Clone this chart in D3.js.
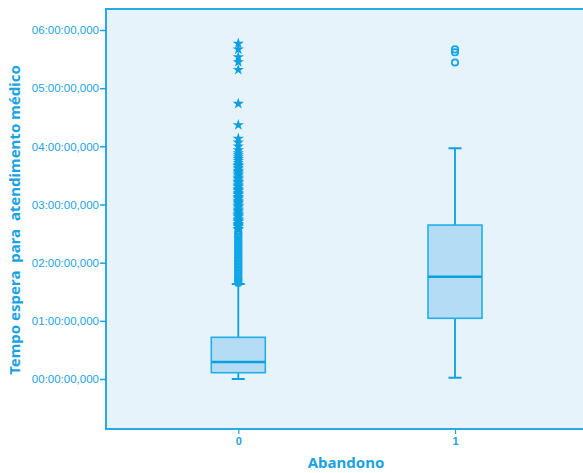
<!DOCTYPE html>
<html>
<head>
<meta charset="utf-8">
<script src="https://cdn.jsdelivr.net/npm/d3@7"></script>
<style>
  html, body { margin: 0; padding: 0; background: #fff; }
  svg { display: block; font-family: "Noto Sans", "Liberation Sans", sans-serif; }
</style>
</head>
<body>
<div id="chart"></div>
<script>
// values in minutes
const categories = ['0', '1'];
const whiskerLow = [0, 1.3];
const q1 = [6.5, 62.6];
const median = [17.5, 105.5];
const q3 = [43, 158.8];
const whiskerHigh = [98, 238];
const outliers0 = [99, 100, 102, 103, 104, 106, 107, 109, 110, 112, 113, 115, 116, 118, 119, 121,
  122, 124, 125, 127, 128, 130, 131, 133, 135, 136, 138, 139, 141, 142, 144, 146, 147, 149, 150,
  152, 154, 155, 157, 158, 159, 160, 162, 163, 164, 165, 167, 168, 169, 170, 172, 173, 174, 175,
  177, 178, 179, 181, 182, 183, 184, 186, 187, 188, 190, 191, 192, 194, 195, 196, 198, 199, 200,
  202, 203, 204, 206, 207, 208, 210, 211, 213, 214, 215, 217, 218, 220, 221, 223, 225, 227, 229,
  231, 233, 236, 240, 244, 248, 262, 284, 319, 327, 332, 340, 346];
const outliers1 = [326.5, 337, 340];
const outliers = [outliers0, outliers1];
const yTicks = [0, 60, 120, 180, 240, 300, 360];

const W = 583, H = 473;
const plotLeft = 106, plotTop = 9, plotBottom = 429;
const textColor = '#1aa3e2';
const lineColor = '#0ba0e0';

const svg = d3.select('#chart').append('svg')
  .attr('width', W)
  .attr('height', H);

const y = d3.scaleLinear().domain([0, 360]).range([379, 30]);
const x = d3.scalePoint().domain(categories).range([238.3, 455]);

// plot area
svg.append('rect')
  .attr('x', plotLeft).attr('y', plotTop)
  .attr('width', W - plotLeft + 10).attr('height', plotBottom - plotTop)
  .attr('fill', '#e6f3fb')
  .attr('stroke', '#28a9e3')
  .attr('stroke-width', 2);

// axes
const yAxis = d3.axisLeft(y)
  .tickValues(yTicks)
  .tickSize(6)
  .tickPadding(1)
  .tickFormat(d => d3.format('02d')(d / 60) + ':00:00,000');

const gy = svg.append('g')
  .attr('transform', `translate(${plotLeft},0)`)
  .call(yAxis);
gy.select('.domain').remove();
gy.selectAll('line').attr('stroke', textColor).attr('stroke-width', 1.5);
gy.selectAll('text')
  .attr('fill', textColor)
  .attr('font-size', 11.5)
  .attr('font-weight', 500);

const xAxis = d3.axisBottom(x).tickSize(5).tickPadding(3);
const gx = svg.append('g')
  .attr('transform', `translate(0,${plotBottom})`)
  .call(xAxis);
gx.select('.domain').remove();
gx.selectAll('line').attr('stroke', textColor).attr('stroke-width', 1.2);
gx.selectAll('text')
  .attr('fill', textColor)
  .attr('font-size', 11)
  .attr('font-weight', 600);

// titles
svg.append('text')
  .attr('x', 346).attr('y', 468)
  .attr('text-anchor', 'middle')
  .attr('fill', textColor)
  .attr('font-size', 15)
  .attr('font-weight', 'bold')
  .text('Abandono');

svg.append('text')
  .attr('transform', 'translate(20,220) rotate(-90)')
  .attr('text-anchor', 'middle')
  .attr('fill', textColor)
  .attr('font-size', 15)
  .attr('font-weight', 'bold')
  .style('white-space', 'pre')
  .text('Tempo espera  para  atendimento médico');

// boxes
const boxW = 54, capW = 13;
categories.forEach((c, i) => {
  const cx = x(c);
  const g = svg.append('g');

  // whiskers
  g.append('line')
    .attr('x1', cx).attr('x2', cx)
    .attr('y1', y(whiskerLow[i])).attr('y2', y(q1[i]))
    .attr('stroke', lineColor).attr('stroke-width', 1.8);
  g.append('line')
    .attr('x1', cx).attr('x2', cx)
    .attr('y1', y(whiskerHigh[i])).attr('y2', y(q3[i]))
    .attr('stroke', lineColor).attr('stroke-width', 1.8);
  [whiskerLow[i], whiskerHigh[i]].forEach(v => {
    g.append('line')
      .attr('x1', cx - capW / 2).attr('x2', cx + capW / 2)
      .attr('y1', y(v)).attr('y2', y(v))
      .attr('stroke', lineColor).attr('stroke-width', 2);
  });

  g.append('rect')
    .attr('x', cx - boxW / 2).attr('y', y(q3[i]))
    .attr('width', boxW).attr('height', y(q1[i]) - y(q3[i]))
    .attr('fill', '#b4dcf4')
    .attr('stroke', '#24aee9')
    .attr('stroke-width', 1.6);

  g.append('line')
    .attr('x1', cx - boxW / 2).attr('x2', cx + boxW / 2)
    .attr('y1', y(median[i])).attr('y2', y(median[i]))
    .attr('stroke', lineColor).attr('stroke-width', 2.6);

  // outliers: circles up to 3 IQR, stars beyond
  const extreme = q3[i] + 3 * (q3[i] - q1[i]);
  const star = d3.symbol().type(d3.symbolStar).size(40);
  outliers[i].forEach(v => {
    if (v > extreme) {
      g.append('path')
        .attr('d', star)
        .attr('transform', `translate(${cx},${y(v)})`)
        .attr('fill', lineColor);
    } else {
      g.append('circle')
        .attr('cx', cx).attr('cy', y(v)).attr('r', 3.2)
        .attr('fill', 'none')
        .attr('stroke', '#12a6e8')
        .attr('stroke-width', 1.7);
    }
  });
});
</script>
</body>
</html>
